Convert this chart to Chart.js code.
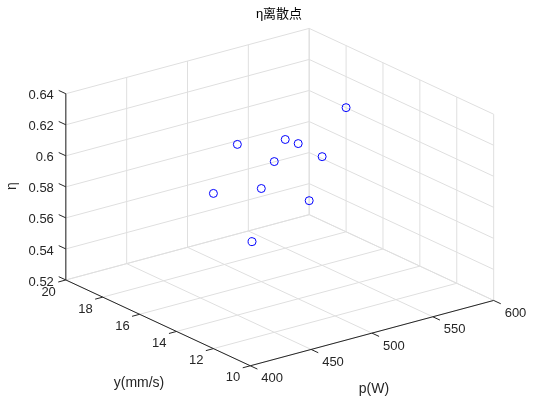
<!DOCTYPE html>
<html>
<head>
<meta charset="utf-8">
<script src="https://cdn.jsdelivr.net/npm/chart.js@4.4.1/dist/chart.umd.min.js"></script>
<style>
  body { margin: 0; background: #fff; }
  #wrap { width: 533px; height: 401px; }
</style>
</head>
<body>
<div id="wrap"><canvas id="chart"></canvas></div>
<script>
// tick values of the three axes
const pTicks = [400, 450, 500, 550, 600];
const yTicks = [10, 12, 14, 16, 18, 20];
const etaTicks = [0.52, 0.54, 0.56, 0.58, 0.6, 0.62, 0.64];
const etaLabels = ['0.52', '0.54', '0.56', '0.58', '0.6', '0.62', '0.64'];

// scatter points (p, y, eta)
const pData = [600, 450, 550, 500, 450, 550, 400, 500, 600, 500];
const yData = [18, 14, 18, 14, 12, 16, 12, 16, 20, 16.5];
const etaData = [0.6, 0.63, 0.59, 0.62, 0.63, 0.59, 0.62, 0.58, 0.529, 0.543];

// orthographic view (az -37.5, el 30), screen vectors for the full axis ranges
const view = {
    ox: 250, oy: 370,          // screen pos of (pMin, yMin, etaMin)
    px: 248, py: -67,          // p: 400 -> 600
    yx: -188, yy: -88,         // y: 10 -> 20
    ez: -191                   // eta: 0.52 -> 0.64
};
const pMin = 400, pMax = 600, yMin = 10, yMax = 20, eMin = 0.52, eMax = 0.64;

function project(p, y, e) {
    const a = (p - pMin) / (pMax - pMin);
    const b = (y - yMin) / (yMax - yMin);
    const c = (e - eMin) / (eMax - eMin);
    return {
        x: view.ox + a * view.px + b * view.yx,
        y: view.oy + a * view.py + b * view.yy + c * view.ez
    };
}

function seg(list, from, to) {
    list.push(project(...from), project(...to), { x: null, y: null });
}

// grid on floor and the two back walls
const gridPts = [];
pTicks.forEach(p => seg(gridPts, [p, yMin, eMin], [p, yMax, eMin]));
yTicks.forEach(y => seg(gridPts, [pMin, y, eMin], [pMax, y, eMin]));
pTicks.forEach(p => seg(gridPts, [p, yMax, eMin], [p, yMax, eMax]));
etaTicks.forEach(e => seg(gridPts, [pMin, yMax, e], [pMax, yMax, e]));
yTicks.forEach(y => seg(gridPts, [pMax, y, eMin], [pMax, y, eMax]));
etaTicks.forEach(e => seg(gridPts, [pMax, yMin, e], [pMax, yMax, e]));

// axis lines
const axisPts = [];
seg(axisPts, [pMin, yMax, eMin], [pMin, yMax, eMax]);
seg(axisPts, [pMin, yMax, eMin], [pMin, yMin, eMin]);
seg(axisPts, [pMin, yMin, eMin], [pMax, yMin, eMin]);

// tick marks, pointing out of the box
const tickLen = 8;
function tickSeg(list, from, dir) {
    const a = project(...from);
    const b = project(from[0] + dir[0], from[1] + dir[1], from[2] + dir[2]);
    const dx = b.x - a.x, dy = b.y - a.y;
    const n = Math.hypot(dx, dy);
    list.push(a, { x: a.x + dx / n * tickLen, y: a.y + dy / n * tickLen }, { x: null, y: null });
}
const tickPts = [];
etaTicks.forEach(e => tickSeg(tickPts, [pMin, yMax, e], [0, 1, 0]));
yTicks.forEach(y => tickSeg(tickPts, [pMin, y, eMin], [-10, 0, 0]));
pTicks.forEach(p => tickSeg(tickPts, [p, yMin, eMin], [0, -1, 0]));

const scatterPts = pData.map((p, i) => project(p, yData[i], etaData[i]));

const textColor = '#262626';
const tickFont = '13px "Liberation Sans", Arial, sans-serif';
const labelFont = '14px "Liberation Sans", Arial, sans-serif';

// tick labels, axis titles and title
const labelsPlugin = {
    id: 'labels3d',
    afterDraw(chart) {
        const ctx = chart.ctx;
        const sx = chart.scales.x, sy = chart.scales.y;
        const px = v => ({ x: sx.getPixelForValue(v.x), y: sy.getPixelForValue(v.y) });
        ctx.save();
        ctx.fillStyle = textColor;
        ctx.font = tickFont;
        ctx.textBaseline = 'middle';

        ctx.textAlign = 'right';
        etaTicks.forEach((e, i) => {
            const q = px(project(pMin, yMax, e));
            ctx.fillText(etaLabels[i], q.x - 12, q.y + 2);
        });
        yTicks.forEach(y => {
            const q = px(project(pMin, y, eMin));
            ctx.fillText(String(y), q.x - 10, q.y + 12);
        });
        ctx.textAlign = 'left';
        pTicks.forEach(p => {
            const q = px(project(p, yMin, eMin));
            ctx.fillText(String(p), q.x + 11, q.y + 13);
        });

        ctx.font = labelFont;
        ctx.textAlign = 'center';
        ctx.fillText('y(mm/s)', 139, 383);
        ctx.fillText('p(W)', 374, 389);
        ctx.save();
        ctx.translate(12, 186);
        ctx.rotate(-Math.PI / 2);
        ctx.fillText('η', 0, 0);
        ctx.restore();

        ctx.font = '13px "Liberation Sans", "Noto Sans CJK SC", sans-serif';
        ctx.fillStyle = '#000';
        ctx.fillText('η离散点', 279, 14);
        ctx.restore();
    }
};

new Chart(document.getElementById('chart'), {
    type: 'scatter',
    data: {
        datasets: [
            {
                data: scatterPts,
                order: 0,
                pointStyle: 'circle',
                pointRadius: 4,
                pointBorderWidth: 1,
                borderColor: '#0000ff',
                backgroundColor: 'rgba(0,0,0,0)'
            },
            {
                data: axisPts, order: 1, showLine: true, spanGaps: false,
                pointRadius: 0, borderColor: textColor, borderWidth: 1
            },
            {
                data: tickPts, order: 1, showLine: true, spanGaps: false,
                pointRadius: 0, borderColor: textColor, borderWidth: 1
            },
            {
                data: gridPts, order: 2, showLine: true, spanGaps: false,
                pointRadius: 0, borderColor: '#dfdfdf', borderWidth: 1
            }
        ]
    },
    options: {
        responsive: true,
        maintainAspectRatio: false,
        animation: false,
        layout: { padding: 0 },
        plugins: { legend: { display: false }, tooltip: { enabled: false } },
        scales: {
            x: { type: 'linear', min: 0, max: 533, display: false },
            y: { type: 'linear', min: 0, max: 401, reverse: true, display: false }
        }
    },
    plugins: [labelsPlugin]
});
</script>
</body>
</html>
